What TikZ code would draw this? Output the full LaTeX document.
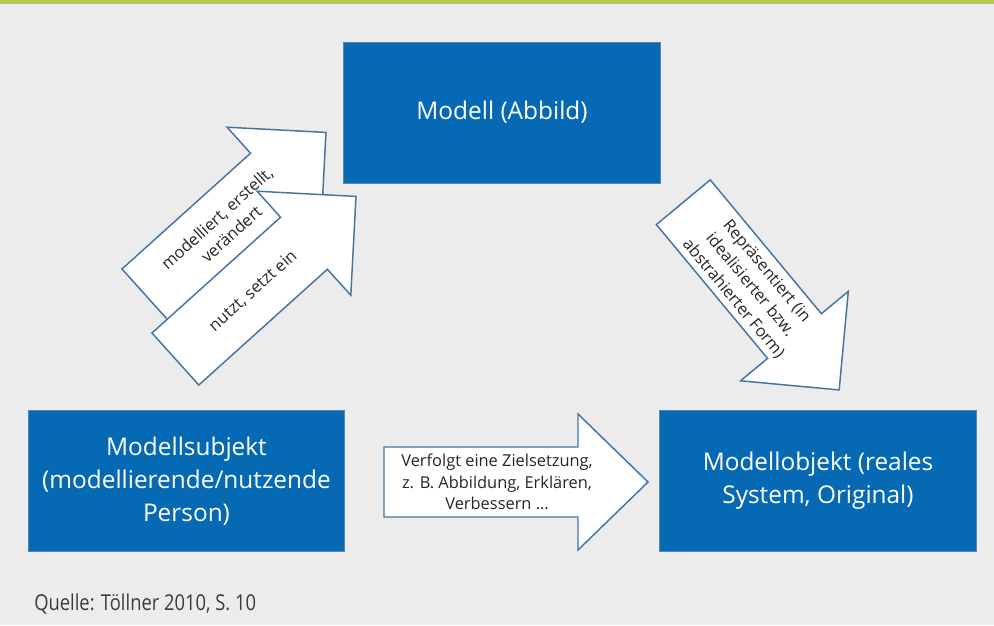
\documentclass[tikz,border=0pt]{standalone}
\usepackage{fontspec}
\setmainfont{Open Sans}
\newfontfamily\quellefont[FakeStretch=0.84]{Open Sans}

\definecolor{bgcol}{RGB}{236,236,236}
\definecolor{barcol}{RGB}{177,204,84}
\definecolor{boxfill}{RGB}{6,105,180}
\definecolor{boxline}{RGB}{88,132,186}
\definecolor{arrline}{RGB}{70,116,162}
\definecolor{txtcol}{RGB}{38,38,38}
\definecolor{srccol}{RGB}{60,60,60}

% block arrow: #1 tail centre, #2 angle, #3 body length, #4 head half width, #5 head length
\newcommand\blockarrow[5]{%
  \begin{scope}[shift={(#1)},rotate=#2]
    \draw[arrowshape] (0,-35) -- (#3,-35) -- (#3,-#4) -- ({#3+#5},0)
      -- (#3,#4) -- (#3,35) -- (0,35) -- cycle;
  \end{scope}}

\begin{document}
\begin{tikzpicture}[x=0.75pt,y=-0.75pt,
  box/.style={draw=boxline,line width=0.6pt,fill=boxfill,text=white,
    minimum width=237.4pt,minimum height=105.75pt,align=center,
    font=\fontsize{18.3pt}{24.75pt}\selectfont},
  arrowshape/.style={draw=arrline,line width=1.1pt,fill=white,line join=miter},
  arrlabel/.style={text=txtcol,align=center,inner sep=0pt,
    font=\fontsize{12.3pt}{16.2pt}\selectfont}]

% background and top bar
\fill[bgcol] (0,0) rectangle (994,625);
\useasboundingbox (0,0) rectangle (994,625);
\fill[barcol] (0,0) rectangle (994,4);

% boxes
\node[box] (modell) at (502,112.5) {Modell (Abbild)};
\node[box] (subjekt) at (186.5,481) {Modellsubjekt\\(modellierende/nutzende\\Person)};
\node[box] (objekt) at (818,481) {Modellobjekt (reales\\System, Original)};

% tail centres of the block arrows
\coordinate (a1) at (145.4,295);
\coordinate (a2) at (175.4,359);
\coordinate (a3) at (683.3,202.2);
\coordinate (a4) at (384,482);

\blockarrow{a1}{42}{173}{70}{70}
\node[arrlabel,rotate=42] (lbl1) at (224,226) {modelliert, erstellt,\\verändert};

\blockarrow{a2}{42}{173}{70}{70}
\node[arrlabel,rotate=42] (lbl2) at (253,291) {nutzt, setzt ein};

\blockarrow{a3}{-50.3}{174}{70}{70}
\node[arrlabel,rotate=-50.3] (lbl3) at (750,285) {Repräsentiert (in\\idealisierter bzw.\\abstrahierter Form)};

\blockarrow{a4}{0}{194}{68}{70}
\node[arrlabel] (lbl4) at (497,482) {Verfolgt eine Zielsetzung,\\z. B. Abbildung, Erklären,\\Verbessern …};

% source line
\node[anchor=base west,inner sep=0pt,text=srccol,
  font=\quellefont\fontsize{16.4pt}{19pt}\selectfont] (quelle) at (34,610)
  {Quelle: Töllner 2010, S. 10};
\end{tikzpicture}
\end{document}
